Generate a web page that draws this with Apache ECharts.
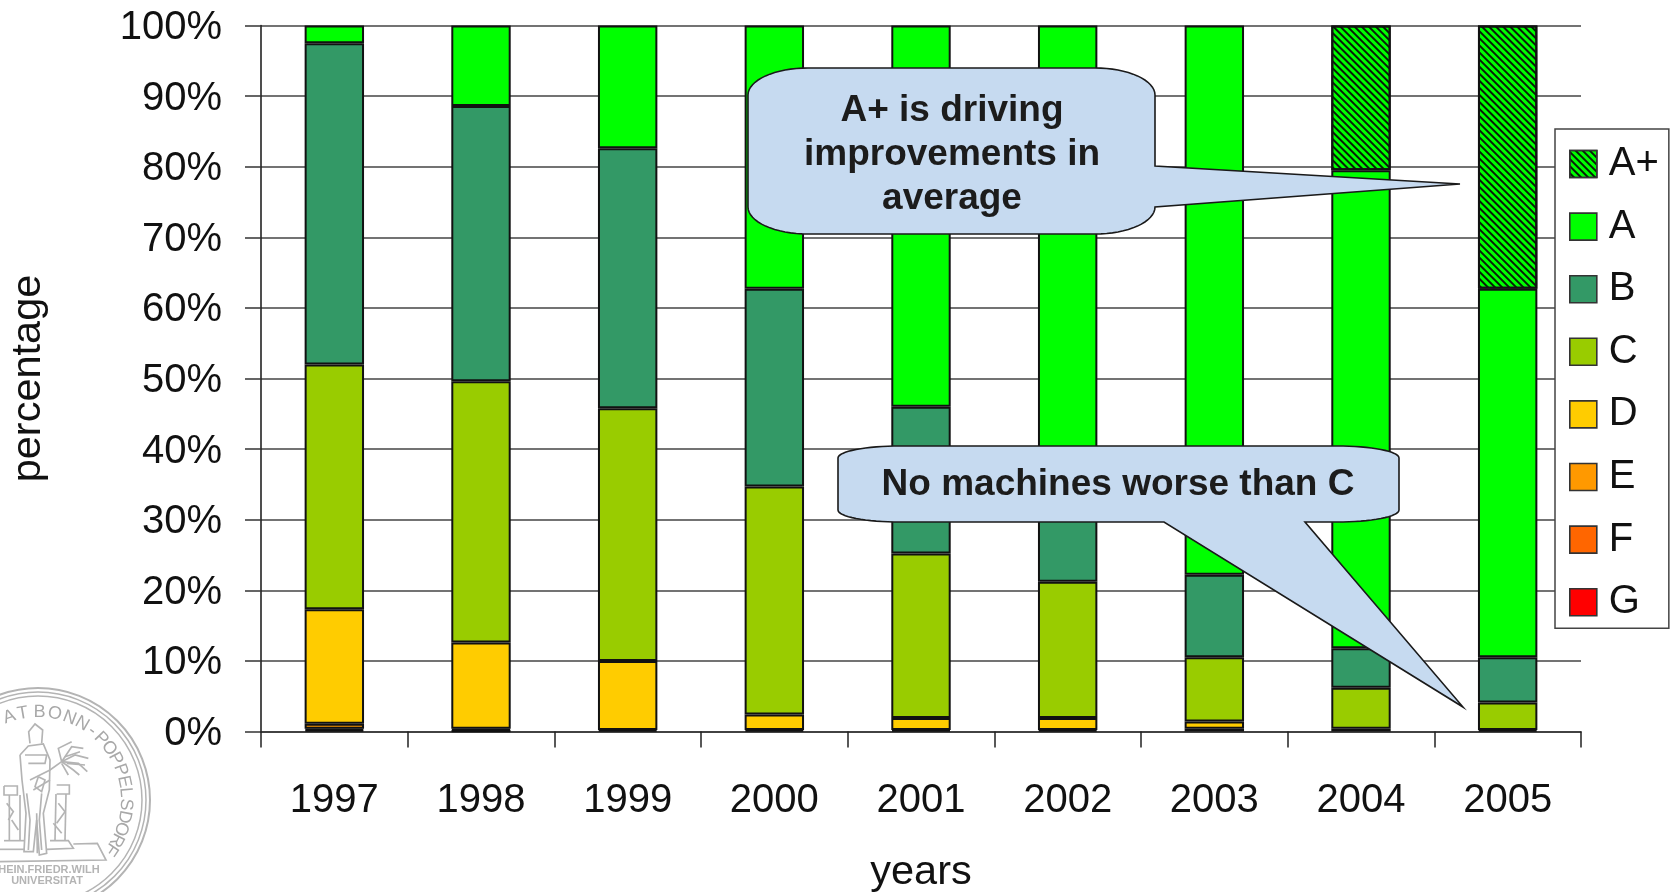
<!DOCTYPE html>
<html><head><meta charset="utf-8">
<style>html,body{margin:0;padding:0;background:#fff}#c{width:1675px;height:892px}</style>
<script src="https://cdn.jsdelivr.net/npm/echarts@6/dist/echarts.min.js"></script>
</head><body><div id="c"></div>
<script>
const years=['1997','1998','1999','2000','2001','2002','2003','2004','2005'];
const yTicks=10;
const gradeG=[0.2,0.1,null,null,null,null,null,null,null];
const gradeF=[0.2,0.1,null,null,null,null,null,null,null];
const gradeE=[0.7,0.2,0.2,0.2,0.2,0.2,0.4,0.4,0.2];
const gradeD=[16.2,12.2,9.8,2.2,1.7,1.7,1.0,null,null];
const gradeC=[34.7,37.0,35.8,32.3,23.3,19.3,9.1,5.8,3.9];
const gradeB=[45.5,39.0,36.8,28.0,20.8,14.0,11.7,5.6,6.4];
const gradeA=[2.5,11.4,17.4,37.3,54.0,64.8,77.8,67.7,52.2];
const gradeAPlus=[null,null,null,null,null,null,null,20.5,37.3];
const FONT='"Liberation Sans",Arial,sans-serif';
const bw=2;
function ser(name,data,color,extra){
  return {name,type:'bar',stack:'t',data,barWidth:'40.5%',
    itemStyle:Object.assign({color,borderColor:'#111',borderWidth:bw},extra||{})};
}
function arc(cx,cy,rx,ry,a0,a1){
  const pts=[];
  for(let i=0;i<=16;i++){const a=(a0+(a1-a0)*i/16)*Math.PI/180;pts.push([cx+rx*Math.cos(a),cy+ry*Math.sin(a)]);}
  return pts;
}
function bubble(l,t,r,b,rx,ry,tailRight,tailBottom){
  let p=[];
  p=p.concat(arc(l+rx,t+ry,rx,ry,180,270));
  p=p.concat(arc(r-rx,t+ry,rx,ry,270,360));
  if(tailRight)p=p.concat(tailRight);
  p=p.concat(arc(r-rx,b-ry,rx,ry,0,90));
  if(tailBottom)p=p.concat(tailBottom);
  p=p.concat(arc(l+rx,b-ry,rx,ry,90,180));
  return p;
}
const callout1=bubble(748,68,1155,234,60,27,[[1155,166],[1460,184],[1155,207]],null);
const callout2=bubble(838,446,1399,522,62,12,null,[[1305,522],[1463,707],[1164,522]]);

// University seal (line work in zoomed-crop coordinates, 3x, origin 0,680)
const sealStroke='#b4b4b4';
const sealLines=[
 [[60,225],[85,198],[130,192],[150,240],[148,330],[130,400],[140,520],[118,525],[110,420],[100,515],[72,515],[78,400],[66,300],[60,225]],
 [[90,190],[86,155],[105,132],[128,150],[125,190]],
 [[75,225],[140,225],[135,250],[85,250]],
 [[80,340],[90,420],[85,510]],[[125,340],[118,420],[125,510]],
 [[90,300],[150,270],[185,245]],[[100,330],[150,300]],[[110,400],[112,520]],
 [[115,290],[135,300],[125,335],[105,320],[115,290]],
 [[185,245],[175,205],[215,185]],[[185,245],[215,200],[250,205]],[[185,245],[225,225],[265,235]],[[185,245],[235,250],[262,275]],[[185,245],[220,270],[238,285]],[[185,250],[205,285]],[[195,230],[240,215]],[[200,250],[255,255]],
 [[12,318],[52,318],[52,345],[12,345],[12,318]],[[28,345],[28,480]],[[60,345],[60,480]],
 [[170,315],[208,315],[208,342],[170,342]],[[168,342],[165,480]],[[198,342],[195,480]],
 [[20,370],[40,395],[25,420]],[[175,370],[195,395],[170,430]],[[35,420],[55,450]],[[160,430],[185,460]],
 [[12,482],[75,482]],[[150,482],[205,482],[220,505],[140,508]],[[0,508],[75,508]],
 [[220,492],[292,490],[318,540],[0,545]]
];
const sealChars=['A','T','B','O','N','N','-','P','O','P','P','E','L','S','D','O','R','F'];
const sealAngles=[-19,-10,1,11,21,30,38,46,54,62,70,78,85,93,101,109,117,124];
const sealCx=38,sealCy=800,sealR=88;
const sealText=sealChars.map((ch,i)=>{
  const a=sealAngles[i]*Math.PI/180;
  return {type:'text',z:5,x:sealCx+sealR*Math.sin(a),y:sealCy-sealR*Math.cos(a),rotation:-a,
    style:{text:ch,fontFamily:FONT,fontSize:18,fill:'#a8a8a8',align:'center',verticalAlign:'middle'}};
});

const chart=echarts.init(document.getElementById('c'));
chart.setOption({
  animation:false,backgroundColor:'#fff',
  grid:{left:261,right:94,top:25.5,bottom:160.5,outerBoundsMode:'none',containLabel:false},
  legend:{
    orient:'vertical',left:1555,top:129,padding:[15,10,6,14],itemWidth:27,itemHeight:27,itemGap:22.6,icon:'rect',
    backgroundColor:'#fff',borderColor:'#444',borderWidth:1.5,
    data:['A+','A','B','C','D','E','F','G'],
    itemStyle:{borderWidth:1.6,borderColor:'#333'},
    textStyle:{fontFamily:FONT,fontSize:40,color:'#111',lineHeight:27,padding:[0,0,0,7]}
  },
  xAxis:{type:'category',data:years,name:'years',nameLocation:'middle',nameGap:120,
    nameTextStyle:{fontFamily:FONT,fontSize:41.5,color:'#111'},
    axisLine:{show:true,lineStyle:{color:'#333',width:1.6}},
    axisTick:{show:true,length:16,alignWithLabel:false,lineStyle:{color:'#222',width:1.5}},
    axisLabel:{fontFamily:FONT,fontSize:40,color:'#111',margin:49,interval:0},
    splitLine:{show:false}},
  yAxis:{type:'value',min:0,max:100,interval:yTicks,name:'percentage',nameLocation:'middle',nameGap:211,
    nameTextStyle:{fontFamily:FONT,fontSize:41.5,color:'#111'},
    axisLine:{show:true,lineStyle:{color:'#222',width:1.6}},
    axisTick:{show:true,length:16,lineStyle:{color:'#333',width:1.5}},
    axisLabel:{margin:39,formatter:'{t|{value}%}',
      rich:{t:{fontFamily:FONT,fontSize:40,color:'#111',padding:[5,0,0,0]}}},
    splitLine:{show:true,lineStyle:{color:'#444',width:1.5}}},
  series:[
    ser('G',gradeG,'#ff0000'),
    ser('F',gradeF,'#ff6600'),
    ser('E',gradeE,'#ff9900'),
    ser('D',gradeD,'#ffcc00'),
    ser('C',gradeC,'#99cc00'),
    ser('B',gradeB,'#339966'),
    ser('A',gradeA,'#00ff00'),
    ser('A+',gradeAPlus,'#00ff00',{decal:{symbol:'rect',symbolSize:1,dashArrayX:[1,0],dashArrayY:[2,3],rotation:Math.PI/4,color:'#0a1a0a'}})
  ],
  graphic:{elements:[
    {type:'polygon',z:50,shape:{points:callout1},style:{fill:'#c6daf0',stroke:'#1a1a1a',lineWidth:1.6}},
    {type:'polygon',z:50,shape:{points:callout2},style:{fill:'#c6daf0',stroke:'#1a1a1a',lineWidth:1.6}},
    {type:'text',z:51,x:952,y:155,style:{text:'A+ is driving\nimprovements in\naverage',fontFamily:FONT,fontWeight:'bold',fontSize:37,lineHeight:44,fill:'#1c1c1c',align:'center',verticalAlign:'middle'}},
    {type:'text',z:51,x:1118,y:485,style:{text:'No machines worse than C',fontFamily:FONT,fontWeight:'bold',fontSize:37,fill:'#1c1c1c',align:'center',verticalAlign:'middle'}},
    {type:'circle',z:5,shape:{cx:sealCx,cy:sealCy,r:112},style:{fill:'none',stroke:sealStroke,lineWidth:2}},
    {type:'circle',z:5,shape:{cx:sealCx,cy:sealCy,r:108},style:{fill:'none',stroke:sealStroke,lineWidth:1.5}},
    {type:'circle',z:5,shape:{cx:sealCx,cy:sealCy,r:104},style:{fill:'none',stroke:sealStroke,lineWidth:1.5}},
    {type:'group',x:0,y:680,scaleX:1/3,scaleY:1/3,z:5,children:sealLines.map(p=>({type:'polyline',z:5,shape:{points:p},style:{fill:'none',stroke:sealStroke,lineWidth:5}}))},
    ...sealText,
    {type:'text',z:5,x:45,y:870,style:{text:'RHEIN.FRIEDR.WILH',fontFamily:FONT,fontSize:11,fontWeight:'bold',fill:'#b4b4b4',align:'center',verticalAlign:'middle'}},
    {type:'text',z:5,x:47,y:881,style:{text:'UNIVERSITAT',fontFamily:FONT,fontSize:11,fontWeight:'bold',fill:'#b4b4b4',align:'center',verticalAlign:'middle'}}
  ]}
});
</script></body></html>
